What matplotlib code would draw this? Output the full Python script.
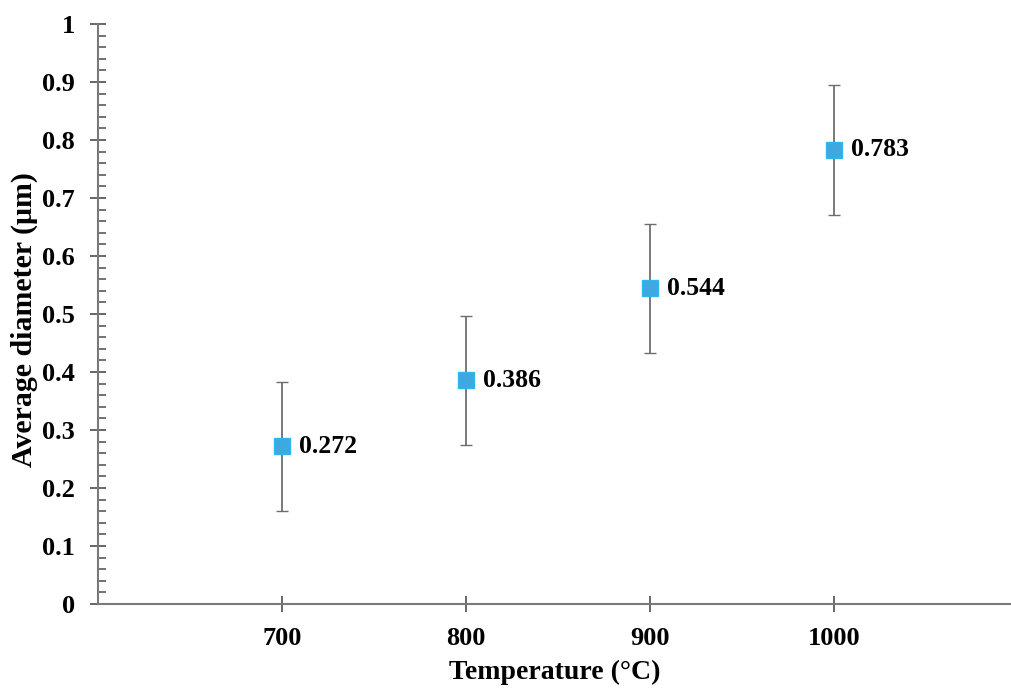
import matplotlib.pyplot as plt
from matplotlib.ticker import MultipleLocator, FuncFormatter

# data
temperature = [700, 800, 900, 1000]
diameter = [0.272, 0.386, 0.544, 0.783]
diameter_err = [0.111, 0.111, 0.112, 0.112]
labels = ["0.272", "0.386", "0.544", "0.783"]

plt.rcParams["font.family"] = ["Liberation Serif", "DejaVu Serif"]
plt.rcParams["font.weight"] = "bold"

fig = plt.figure(figsize=(10.12, 6.88), dpi=100)
ax = fig.add_axes([98 / 1012, 1 - 604 / 688, (1012 - 98) / 1012, (604 - 24) / 688])

ax.errorbar(temperature, diameter, yerr=diameter_err, fmt="s", ms=11,
            mfc="#3FA9DF", mec="#2BB8F0", mew=1.0,
            ecolor="#6E6E6E", elinewidth=1.3, capsize=4, capthick=1.3, zorder=3)

for x, y, s in zip(temperature, diameter, labels):
    ax.annotate(s, (x, y), xytext=(12, 0), textcoords="offset points",
                ha="left", va="center", fontsize=18.5, fontweight="bold")

ax.set_xlim(600, 600 + (1012 - 98) / 1.84)
ax.set_ylim(0, 1)
ax.set_xticks(temperature)
ax.yaxis.set_major_locator(MultipleLocator(0.1))
ax.yaxis.set_minor_locator(MultipleLocator(0.02))
ax.yaxis.set_major_formatter(FuncFormatter(lambda v, p: f"{round(v, 2):g}"))

for side in ["top", "right"]:
    ax.spines[side].set_visible(False)
for side in ["left", "bottom"]:
    ax.spines[side].set_color("#7A7A7A")
    ax.spines[side].set_linewidth(1.5)

ax.tick_params(axis="both", which="major", direction="inout", length=11, width=1.3,
               color="#5A5A5A", labelsize=19)
ax.tick_params(axis="y", which="minor", direction="in", length=6, width=1.2, color="#5A5A5A")
ax.tick_params(axis="y", which="major", pad=11)
ax.tick_params(axis="x", which="major", pad=11)
for lab in ax.get_xticklabels() + ax.get_yticklabels():
    lab.set_fontweight("bold")

ax.set_xlabel("Temperature (°C)", fontsize=20, fontweight="bold", labelpad=7)
ax.set_ylabel("Average diameter (μm)", fontsize=21.5, fontweight="bold")
ax.yaxis.set_label_coords(-0.066, 0.49)

fig.savefig("out.png", dpi=100)
